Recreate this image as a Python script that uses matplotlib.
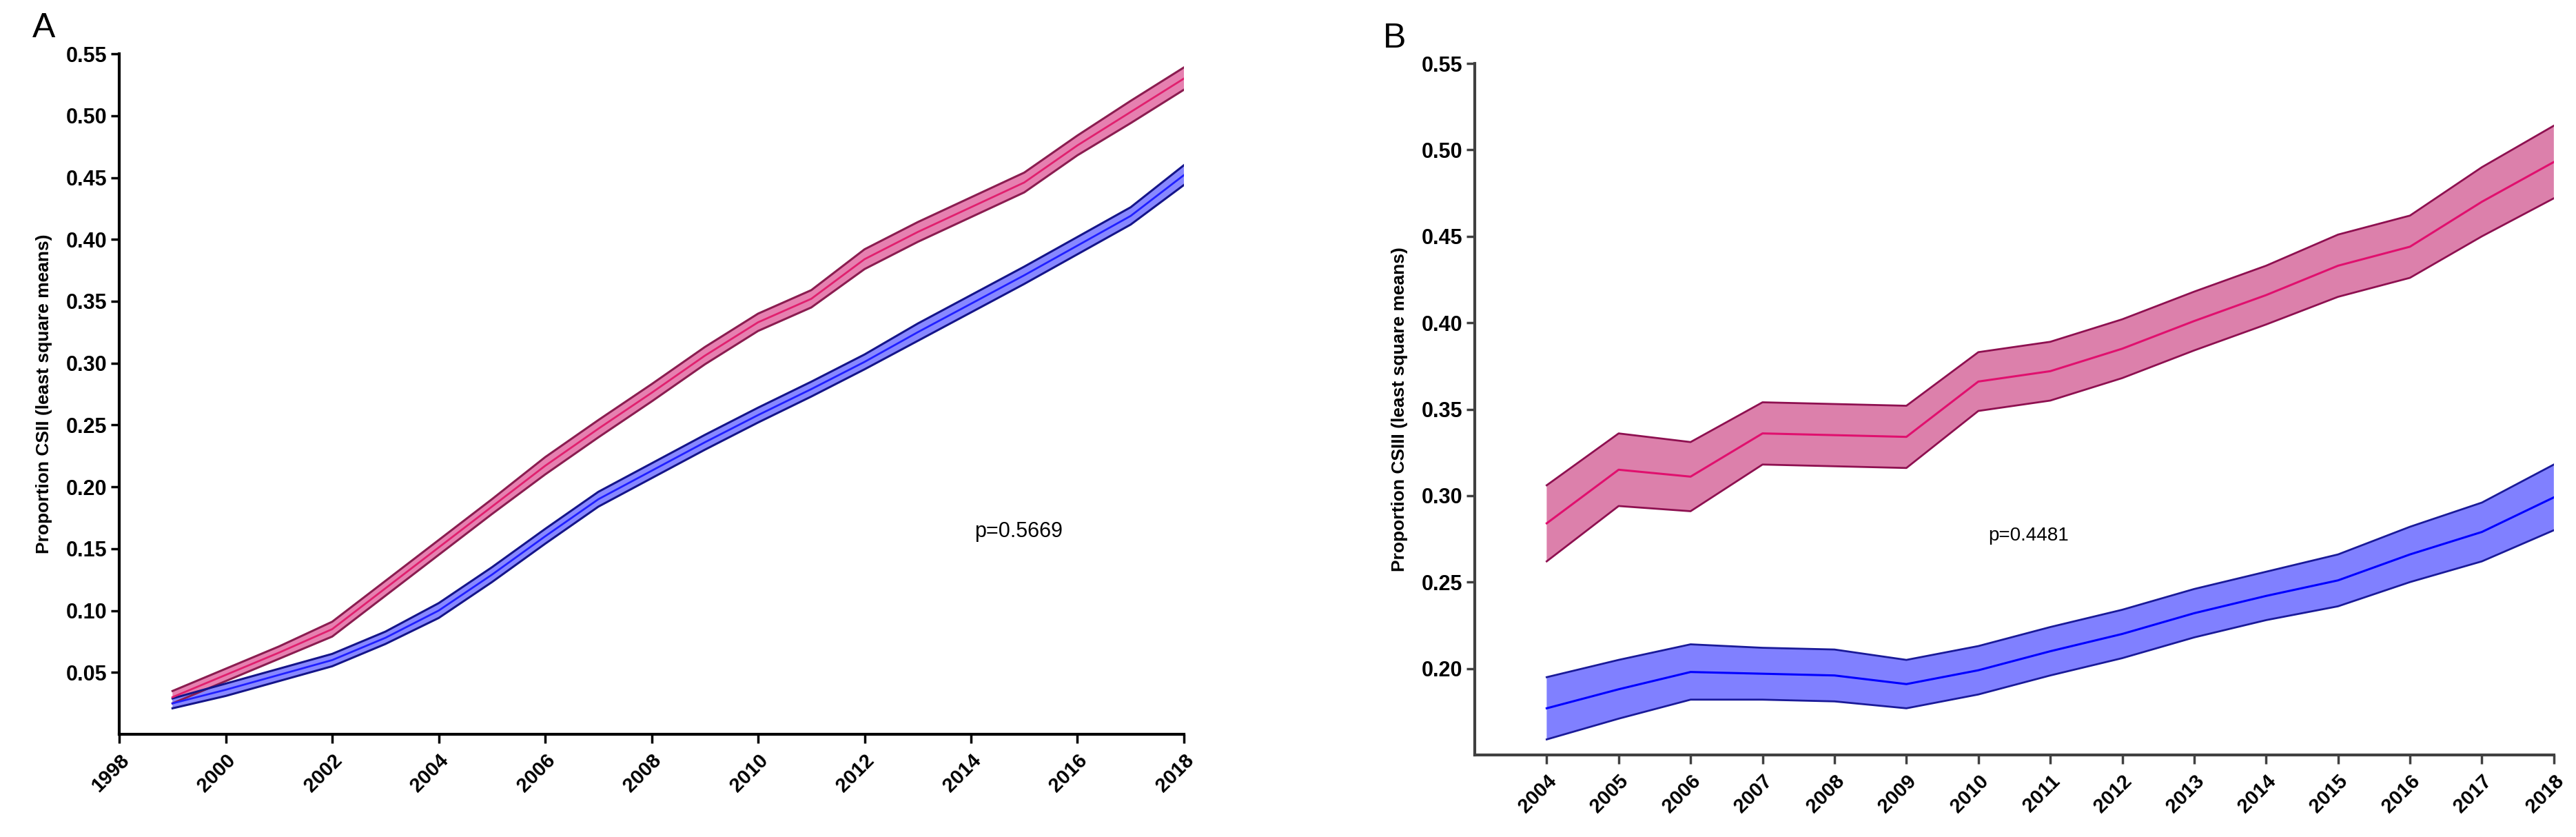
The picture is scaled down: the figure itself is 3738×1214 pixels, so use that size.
import matplotlib
matplotlib.use('Agg')
import matplotlib.pyplot as plt
import numpy as np

plt.rcParams['font.family'] = ['Liberation Sans', 'DejaVu Sans']

# panel A data (1999-2018)
years_a = [1999, 2000, 2001, 2002, 2003, 2004, 2005, 2006, 2007, 2008,
           2009, 2010, 2011, 2012, 2013, 2014, 2015, 2016, 2017, 2018]
pink_a = [0.030, 0.048, 0.066, 0.085, 0.118, 0.151, 0.184, 0.217, 0.247, 0.276,
          0.306, 0.333, 0.352, 0.384, 0.406, 0.426, 0.446, 0.476, 0.503, 0.530]
pink_a_ci = [0.005, 0.005, 0.005, 0.006, 0.006, 0.006, 0.006, 0.007, 0.007, 0.007,
             0.007, 0.007, 0.007, 0.008, 0.008, 0.008, 0.008, 0.008, 0.009, 0.009]
blue_a = [0.025, 0.036, 0.048, 0.060, 0.078, 0.100, 0.129, 0.160, 0.190, 0.213,
          0.236, 0.258, 0.279, 0.301, 0.325, 0.348, 0.371, 0.395, 0.419, 0.452]
blue_a_ci = [0.004, 0.005, 0.005, 0.005, 0.005, 0.006, 0.006, 0.006, 0.006, 0.006,
             0.006, 0.006, 0.006, 0.006, 0.007, 0.007, 0.007, 0.007, 0.007, 0.008]

# panel B data (2004-2018)
years_b = [2004, 2005, 2006, 2007, 2008, 2009, 2010, 2011, 2012, 2013,
           2014, 2015, 2016, 2017, 2018]
pink_b = [0.284, 0.315, 0.311, 0.336, 0.335, 0.334, 0.366, 0.372, 0.385, 0.401,
          0.416, 0.433, 0.444, 0.470, 0.493]
pink_b_ci = [0.022, 0.021, 0.020, 0.018, 0.018, 0.018, 0.017, 0.017, 0.017, 0.017,
             0.017, 0.018, 0.018, 0.020, 0.021]
blue_b = [0.177, 0.188, 0.198, 0.197, 0.196, 0.191, 0.199, 0.210, 0.220, 0.232,
          0.242, 0.251, 0.266, 0.279, 0.299]
blue_b_ci = [0.018, 0.017, 0.016, 0.015, 0.015, 0.014, 0.014, 0.014, 0.014, 0.014,
             0.014, 0.015, 0.016, 0.017, 0.019]

yticks_a = [0.05, 0.10, 0.15, 0.20, 0.25, 0.30, 0.35, 0.40, 0.45, 0.50, 0.55]
xticks_a = list(range(1998, 2019, 2))
yticks_b = [0.20, 0.25, 0.30, 0.35, 0.40, 0.45, 0.50, 0.55]
xticks_b = years_b


def band(ax, x, mid, ci, fill, edge, line, lw_edge, lw_mid):
    x = np.array(x)
    mid = np.array(mid)
    ci = np.array(ci)
    ax.fill_between(x, mid - ci, mid + ci, facecolor=fill, edgecolor='none', zorder=2)
    ax.plot(x, mid + ci, color=edge, lw=lw_edge, zorder=3)
    ax.plot(x, mid - ci, color=edge, lw=lw_edge, zorder=3)
    ax.plot(x, mid, color=line, lw=lw_mid, zorder=4)


def style_axes(ax, color, xticks, yticks):
    ax.spines['top'].set_visible(False)
    ax.spines['right'].set_visible(False)
    for s in ['left', 'bottom']:
        ax.spines[s].set_linewidth(3)
        ax.spines[s].set_color(color)
    ax.set_xticks(xticks)
    ax.set_yticks(yticks)
    ax.set_yticklabels(['%.2f' % v for v in yticks], fontsize=22, fontweight='bold')
    ax.set_xticklabels([str(v) for v in xticks], fontsize=21, fontweight='bold',
                       rotation=45, ha='right', rotation_mode='anchor')
    ax.tick_params(axis='both', length=9, width=2.5, color=color)
    ax.tick_params(axis='y', pad=4)
    ax.tick_params(axis='x', pad=8)


fig = plt.figure(figsize=(37.38, 12.14), dpi=100)

# panel A
ax1 = fig.add_axes([0.0463, 0.1227, 0.4133, 0.813])
band(ax1, years_a, pink_a, pink_a_ci, '#e680b0', '#8b1c50', '#e0206e', 2.2, 2.0)
band(ax1, years_a, blue_a, blue_a_ci, '#8888ff', '#14148a', '#2020ff', 2.2, 2.0)
ax1.set_xlim(1998, 2018)
ax1.set_ylim(0, 0.55)
style_axes(ax1, 'black', xticks_a, yticks_a)
ax1.set_ylabel('Proportion CSII (least square means)', fontsize=19, fontweight='bold', labelpad=14)
ax1.text(2014.9, 0.164, 'p=0.5669', fontsize=22, ha='center', va='center')
fig.text(0.0126, 0.985, 'A', fontsize=36, va='top', ha='left')

# panel B
ax2 = fig.add_axes([0.5725, 0.098, 0.4189, 0.8262])
band(ax2, years_b, pink_b, pink_b_ci, '#dc80ab', '#8e1050', '#e0106e', 2.0, 2.2)
band(ax2, years_b, blue_b, blue_b_ci, '#8080ff', '#1a1a99', '#0000ff', 2.0, 2.2)
ax2.set_xlim(2003, 2018)
ax2.set_ylim(0.15, 0.55)
style_axes(ax2, '#404040', xticks_b, yticks_b)
ax2.set_ylabel('Proportion CSIII (least square means)', fontsize=19, fontweight='bold', labelpad=14)
ax2.text(2010.7, 0.277, 'p=0.4481', fontsize=20, ha='center', va='center')
fig.text(0.537, 0.973, 'B', fontsize=36, va='top', ha='left')

fig.savefig('out.png', dpi=100)
